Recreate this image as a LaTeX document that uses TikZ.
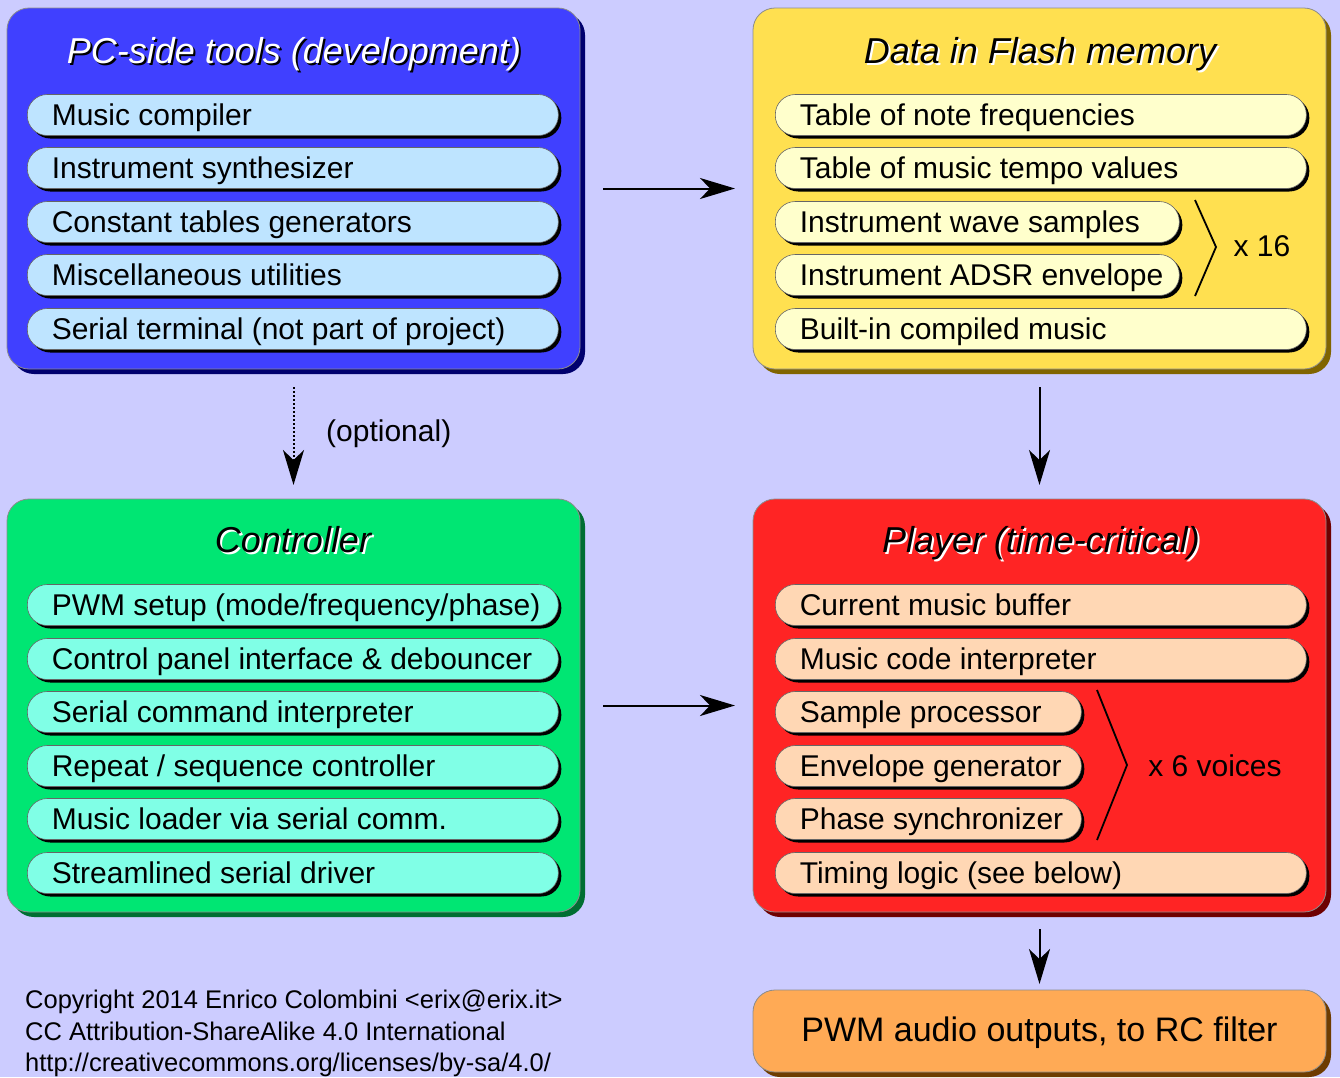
\documentclass[tikz,border=0pt]{standalone}
\usepackage{fontspec}
\setmainfont{Liberation Sans}
\usetikzlibrary{shadows,arrows.meta}
\definecolor{bg}{RGB}{204,204,255}
\definecolor{pcfill}{RGB}{64,64,255}
\definecolor{pcshadow}{RGB}{0,0,110}
\definecolor{pcitem}{RGB}{190,228,255}
\definecolor{flfill}{RGB}{255,224,80}
\definecolor{flshadow}{RGB}{128,100,0}
\definecolor{flitem}{RGB}{255,255,204}
\definecolor{ctfill}{RGB}{0,230,115}
\definecolor{ctshadow}{RGB}{0,110,50}
\definecolor{ctitem}{RGB}{128,255,230}
\definecolor{plfill}{RGB}{255,36,36}
\definecolor{plshadow}{RGB}{110,0,0}
\definecolor{plitem}{RGB}{255,215,180}
\definecolor{outfill}{RGB}{255,170,85}
\definecolor{outshadow}{RGB}{110,60,0}
\newcommand\pilltxt[2]{\makebox[#1][l]{#2}}
\tikzset{
  bigbox/.style={draw=black!45, line width=0.8pt, rounded corners=22pt,
    minimum width=573pt, inner sep=0pt, outer sep=0pt, anchor=north west,
    drop shadow={shadow xshift=5pt, shadow yshift=-5pt, fill=#1, opacity=1}},
  item/.style={draw=black!60, line width=0.6pt, rounded corners=20pt,
    minimum height=41pt, inner xsep=24.5pt, inner ysep=0pt, anchor=west,
    text height=24pt, text depth=4pt,
    font=\fontsize{30}{34}\selectfont,
    drop shadow={shadow xshift=3pt, shadow yshift=-3pt, fill=black, opacity=1}},
  ttl/.style={anchor=base, inner sep=0pt, font=\fontsize{36}{40}\selectfont\itshape},
  lbl/.style={inner sep=0pt, font=\fontsize{30}{34}\selectfont},
  arr/.style={line width=2pt, -{Stealth[length=35pt,width=21pt,inset=10pt]}},
  brace/.style={line width=1.8pt},
}
\begin{document}
\begin{tikzpicture}[x=1pt,y=-1pt]
\useasboundingbox (0,0) rectangle (1340,1077);
\fill[bg] (0,0) rectangle (1340,1077);

% big boxes
\node[bigbox=pcshadow, fill=pcfill, minimum height=361pt] (pc) at (7,8) {};
\node[bigbox=flshadow, fill=flfill, minimum height=361pt] (fl) at (753,8) {};
\node[bigbox=ctshadow, fill=ctfill, minimum height=413pt] (ct) at (7,499) {};
\node[bigbox=plshadow, fill=plfill, minimum height=413pt] (pl) at (753,499) {};
\node[bigbox=outshadow, fill=outfill, minimum height=82pt] (out) at (753,990) {};
\node[lbl, font=\fontsize{34}{38}\selectfont] (outtxt) at ([yshift=-2pt]out.center) {PWM audio outputs, to RC filter};

% titles with shadows
\node[ttl, text=black] (pcts) at (296,65) {PC-side tools (development)};
\node[ttl, text=white] (pct) at (294,63) {PC-side tools (development)};
\node[ttl, text=white] (flts) at (1042,65) {Data in Flash memory};
\node[ttl, text=black] (flt) at (1040,63) {Data in Flash memory};
\node[ttl, text=white] (ctts) at (295,554) {Controller};
\node[ttl, text=black] (ctt) at (293,552) {Controller};
\node[ttl, text=white] (plts) at (1043,554) {Player (time-critical)};
\node[ttl, text=black] (plt) at (1041,552) {Player (time-critical)};

% PC items
\node[item, fill=pcitem] (pc1) at (27,115) {\pilltxt{482pt}{Music compiler}};
\node[item, fill=pcitem] (pc2) at (27,168) {\pilltxt{482pt}{Instrument synthesizer}};
\node[item, fill=pcitem] (pc3) at (27,222) {\pilltxt{482pt}{Constant tables generators}};
\node[item, fill=pcitem] (pc4) at (27,275) {\pilltxt{482pt}{Miscellaneous utilities}};
\node[item, fill=pcitem] (pc5) at (27,329) {\pilltxt{482pt}{Serial terminal (not part of project)}};

% Flash items
\node[item, fill=flitem] (fl1) at (775,115) {\pilltxt{482pt}{Table of note frequencies}};
\node[item, fill=flitem] (fl2) at (775,168) {\pilltxt{482pt}{Table of music tempo values}};
\node[item, fill=flitem] (fl3) at (775,222) {\pilltxt{355pt}{Instrument wave samples}};
\node[item, fill=flitem] (fl4) at (775,275) {\pilltxt{355pt}{Instrument ADSR envelope}};
\node[item, fill=flitem] (fl5) at (775,329) {\pilltxt{482pt}{Built-in compiled music}};
\coordinate (b1a) at (1195,200);
\coordinate (b1b) at (1216,247);
\coordinate (b1c) at (1195,296);
\draw[brace] (b1a) -- (b1b) -- (b1c);
\node[lbl] (x16) at (1262,246) {x 16};

% Controller items
\node[item, fill=ctitem] (ct1) at (27,605) {\pilltxt{482pt}{PWM setup (mode/frequency/phase)}};
\node[item, fill=ctitem] (ct2) at (27,659) {\pilltxt{482pt}{Control panel interface \& debouncer}};
\node[item, fill=ctitem] (ct3) at (27,712) {\pilltxt{482pt}{Serial command interpreter}};
\node[item, fill=ctitem] (ct4) at (27,766) {\pilltxt{482pt}{Repeat / sequence controller}};
\node[item, fill=ctitem] (ct5) at (27,819) {\pilltxt{482pt}{Music loader via serial comm.}};
\node[item, fill=ctitem] (ct6) at (27,873) {\pilltxt{482pt}{Streamlined serial driver}};

% Player items
\node[item, fill=plitem] (pl1) at (775,605) {\pilltxt{482pt}{Current music buffer}};
\node[item, fill=plitem] (pl2) at (775,659) {\pilltxt{482pt}{Music code interpreter}};
\node[item, fill=plitem] (pl3) at (775,712) {\pilltxt{257pt}{Sample processor}};
\node[item, fill=plitem] (pl4) at (775,766) {\pilltxt{257pt}{Envelope generator}};
\node[item, fill=plitem] (pl5) at (775,819) {\pilltxt{257pt}{Phase synchronizer}};
\node[item, fill=plitem] (pl6) at (775,873) {\pilltxt{482pt}{Timing logic (see below)}};
\coordinate (b2a) at (1097,690);
\coordinate (b2b) at (1127,765);
\coordinate (b2c) at (1097,840);
\draw[brace] (b2a) -- (b2b) -- (b2c);
\node[lbl] (x6) at (1215,766) {x 6 voices};

% connectors
\draw[arr, shorten <=23pt, shorten >=18pt] (pc) -- (fl);
\draw[arr, dotted, shorten <=18pt, shorten >=14pt] (pc) -- (ct);
\node[lbl, anchor=west] (opt) at (326,434) {(optional)};
\draw[arr, shorten <=18pt, shorten >=14pt] (fl) -- (pl);
\draw[arr, shorten <=23pt, shorten >=18pt] (ct) -- (pl);
\draw[arr, shorten <=17pt, shorten >=6pt] (pl) -- (out);

% copyright
\node[anchor=north west, align=left, inner sep=0pt,
      font=\fontsize{25.5}{31.5}\selectfont] (copy) at (25,990)
  {Copyright 2014 Enrico Colombini <erix@erix.it>\\
   CC Attribution-ShareAlike 4.0 International\\
   http://creativecommons.org/licenses/by-sa/4.0/};
\end{tikzpicture}
\end{document}
